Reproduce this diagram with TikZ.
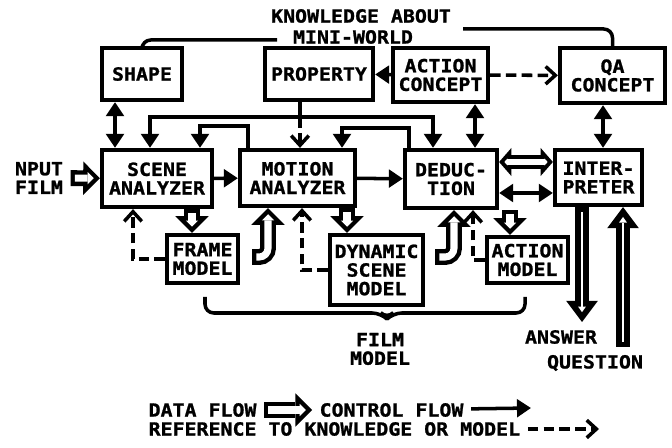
\documentclass[tikz,border=0pt]{standalone}
\usepackage{fontspec}
\usepackage{tikz}
\usetikzlibrary{arrows.meta}

\newfontfamily\plotfont{DejaVu Sans Mono}[FakeStretch = 1.1, BoldFeatures = {FakeBold = 1.2}]

\begin{document}
\begin{tikzpicture}[
  x = 0.02cm, y = -0.02cm,
  line width = 2pt,
  font = \plotfont\bfseries\fontsize{10.3pt}{10.6pt}\selectfont,
  box/.style = {draw, line width = 2.4pt, inner sep = 0pt, align = center},
  control/.style = {-{Triangle[width = 10pt, length = 8pt]}},
  bicontrol/.style = {{Triangle[width = 10pt, length = 8pt]}-{Triangle[width = 10pt, length = 8pt]}},
  reference/.style = {dash pattern = on 6pt off 3pt, -{Straight Barb[width = 10pt, length = 5.5pt]}},
  dataflow/.style = {draw = white, line width = 4pt, shorten > = 3.5pt, shorten < = 2.5pt,
    -{Triangle[width = 7pt, length = 3.5pt, line width = 0pt]},
    preaction = {draw = black, line width = 9pt, shorten > = 0pt, shorten < = 0pt,
      -{Triangle[width = 19pt, length = 9.5pt, line width = 0pt]}}},
  bidataflow/.style = {draw = white, line width = 3.5pt, shorten > = 3pt, shorten < = 3pt,
    {Triangle[width = 4pt, length = 1.75pt, line width = 0pt]}-{Triangle[width = 4pt, length = 1.75pt, line width = 0pt]},
    preaction = {draw = black, line width = 8pt, shorten > = 0pt, shorten < = 0pt,
      {Triangle[width = 16pt, length = 7pt, line width = 0pt]}-{Triangle[width = 16pt, length = 7pt, line width = 0pt]}}},
  bigflow/.style = {draw = white, line width = 1.5pt, shorten > = 5.6pt, shorten < = 3pt,
    -{Triangle[width = 4.5pt, length = 3.2pt, line width = 0pt]},
    preaction = {draw = black, line width = 8.5pt, shorten > = 0pt, shorten < = 0pt,
      -{Triangle[width = 18pt, length = 12pt, line width = 0pt]}}},
  ]

  \useasboundingbox (0, 0) rectangle (672, 448);

  % knowledge about the mini-world
  \node at (361, 16) [name = TitleTop] {KNOWLEDGE ABOUT};

  \node at (353, 37) [name = TitleBottom] {MINI-WORLD};

  \node at (142, 74)
  [box, name = Shape, minimum width = 1.6cm, minimum height = 1.04cm] {SHAPE};

  \node at (319, 74)
  [box, name = Property, minimum width = 2.16cm, minimum height = 1.04cm] {PROPERTY};

  \node at (440.5, 75)
  [box, name = ActionConcept, minimum width = 1.9cm, minimum height = 1.08cm] {ACTION\\CONCEPT};

  \node at (612.5, 75.5)
  [box, name = QAConcept, minimum width = 2.1cm, minimum height = 1.1cm] {QA\\CONCEPT};

  % processing modules
  \node at (157, 178.5)
  [box, name = SceneAnalyzer, minimum width = 2.2cm, minimum height = 1.14cm] {SCENE\\ANALYZER};

  \node at (297.5, 178)
  [box, name = MotionAnalyzer, minimum width = 2.3cm, minimum height = 1.12cm] {MOTION\\ANALYZER};

  \node at (451, 179)
  [box, name = Deduction, minimum width = 1.84cm, minimum height = 1.16cm] {DEDUC-\\TION};

  \node at (598.5, 177.5)
  [box, name = Interpreter, minimum width = 1.74cm, minimum height = 1.1cm] {INTER-\\PRETER};

  % film model
  \node at (202.5, 259)
  [box, name = FrameModel, minimum width = 1.42cm, minimum height = 0.96cm] {FRAME\\MODEL};

  \node at (376.5, 270)
  [box, name = DynamicSceneModel, minimum width = 1.86cm, minimum height = 1.4cm] {DYNAMIC\\SCENE\\MODEL};

  \node at (527.5, 260)
  [box, name = ActionModel, minimum width = 1.62cm, minimum height = 0.92cm] {ACTION\\MODEL};

  \node at (39, 178) [name = InputFilm, align = left] {NPUT\\FILM};

  \node at (380, 349) [name = FilmModel, align = center] {FILM\\MODEL};

  \node at (561, 337) [name = Answer] {ANSWER};

  \node at (595, 363) [name = Question] {QUESTION};

  \coordinate (KnowledgeLeft) at (277, 40);
  \coordinate (KnowledgeRight) at (463, 29);
  \coordinate (Bus) at (300, 117);
  \coordinate (AnswerTip) at (582, 322);
  \coordinate (QuestionTail) at (623, 347);

  \draw [rounded corners = 5pt] (Shape.north) |- (KnowledgeLeft);

  \draw [rounded corners = 5pt] (KnowledgeRight) -| (QAConcept.north);

  \draw [control] (ActionConcept) to (Property);

  \draw [reference] (ActionConcept) to (QAConcept);

  \draw [bicontrol] (Shape.south -| 115,0) to (SceneAnalyzer.north -| 115,0);

  \draw [bicontrol] (ActionConcept.south -| 475,0) to (Deduction.north -| 475,0);

  \draw [bicontrol] (QAConcept.south -| 603,0) to (Interpreter.north -| 603,0);

  \draw (Property.south -| Bus) to (Bus);

  \draw [control] (Bus) -| (SceneAnalyzer.north -| 150,0);

  \draw [control] (Bus) -| (Deduction.north -| 433,0);

  \draw [reference] (Bus) to (MotionAnalyzer.north -| Bus);

  \draw [control] (MotionAnalyzer.north -| 248,0) -- ++(0, -22) -| (SceneAnalyzer.north -| 200,0);

  \draw [control] (Deduction.north -| 409,0) -- ++(0, -20) -| (MotionAnalyzer.north -| 342,0);

  \draw [control] (SceneAnalyzer) to (MotionAnalyzer);

  \draw [control] (MotionAnalyzer) to (Deduction);

  \draw [bidataflow] (Deduction.east |- 0,162) to (Interpreter.west |- 0,162);

  \draw [bicontrol] (Deduction.east |- 0,193) to (Interpreter.west |- 0,193);

  \draw [dataflow] (InputFilm) to (SceneAnalyzer);

  \draw [dataflow] (SceneAnalyzer.south -| 192,0) to (FrameModel.north -| 192,0);

  \draw [dataflow] (MotionAnalyzer.south -| 347,0) to (DynamicSceneModel.north -| 347,0);

  \draw [dataflow] (Deduction.south -| 510,0) to (ActionModel.north -| 510,0);

  \draw [dataflow, rounded corners = 5pt] ([xshift = 0.24cm, yshift = 0.04cm] FrameModel.east) -| (MotionAnalyzer.south -| 268,0);

  \draw [dataflow, rounded corners = 5pt] ([xshift = 0.2cm, yshift = 0.26cm] DynamicSceneModel.east) -| (Deduction.south -| 454,0);

  \draw [reference] (FrameModel.west) -| (SceneAnalyzer.south -| 133,0);

  \draw [reference] (DynamicSceneModel.west) -| (MotionAnalyzer.south -| 302,0);

  \draw [reference] (ActionModel.west) -| (Deduction.south -| 473,0);

  \draw [bigflow] (Interpreter.south -| AnswerTip) to (AnswerTip);

  \draw [bigflow] (QuestionTail) to (Interpreter.south -| QuestionTail);

  % brace round the film model
  \draw [rounded corners = 5pt] (205, 297) -- (205, 313) -- (381, 313) -- (387, 319) -- (393, 313) -- (525, 313) -- (525, 297);

  % legend
  \node at (141, 410) [anchor = west, name = DataFlow] {DATA FLOW};

  \node at (312, 410) [anchor = west, name = ControlFlow] {CONTROL FLOW};

  \node at (141, 429) [anchor = west, name = Reference] {REFERENCE TO KNOWLEDGE OR MODEL};

  \coordinate (ControlTip) at (531, 408);
  \coordinate (ReferenceTip) at (599, 429);

  \draw [dataflow] (DataFlow) to (ControlFlow);

  \draw [control] (ControlFlow) to (ControlTip);

  \draw [reference] (Reference) to (ReferenceTip);

\end{tikzpicture}
\end{document}
